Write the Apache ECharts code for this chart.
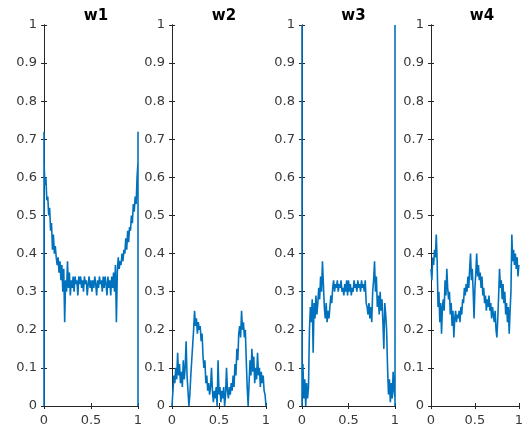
<!DOCTYPE html>
<html>
<head>
<meta charset="utf-8">
<script src="https://cdn.jsdelivr.net/npm/echarts@6/dist/echarts.min.js"></script>
<style>
html,body{margin:0;padding:0;background:#fff;}
#c{width:526px;height:432px;}
</style>
</head>
<body>
<div id="c"></div>
<script>
// Panel titles
const titles = ['w1', 'w2', 'w3', 'w4'];
// Tick labels (axis range and step)
const yTicks = [0, 0.1, 0.2, 0.3, 0.4, 0.5, 0.6, 0.7, 0.8, 0.9, 1];
const xTicks = [0, 0.5, 1];

// Samples at x = 0, 0.01, ..., 1 (101 values each)
const w1 = [0.64,0.58,0.60,0.54,0.55,0.50,0.52,0.46,0.48,0.41,0.45,0.40,0.42,0.39,0.37,0.39,0.35,0.38,0.33,0.37,
0.30,0.36,0.22,0.33,0.30,0.38,0.31,0.35,0.29,0.33,0.31,0.34,0.30,0.34,0.32,0.33,0.29,0.34,0.32,0.34,
0.31,0.33,0.30,0.34,0.32,0.33,0.29,0.32,0.34,0.31,0.33,0.30,0.33,0.31,0.34,0.32,0.29,0.33,0.31,0.34,
0.32,0.33,0.30,0.34,0.31,0.34,0.32,0.29,0.34,0.31,0.33,0.29,0.34,0.31,0.35,0.30,0.37,0.22,0.35,0.39,
0.36,0.38,0.37,0.40,0.38,0.41,0.40,0.44,0.41,0.46,0.43,0.47,0.46,0.50,0.48,0.53,0.51,0.55,0.53,0.60,0.64];
const w2 = [0.00,0.04,0.08,0.06,0.10,0.07,0.14,0.08,0.11,0.06,0.09,0.05,0.12,0.07,0.10,0.17,0.08,0.04,0.00,0.03,
0.08,0.12,0.16,0.20,0.25,0.21,0.23,0.19,0.22,0.20,0.21,0.17,0.19,0.13,0.10,0.12,0.06,0.08,0.04,0.06,
0.03,0.05,0.10,0.04,0.01,0.04,0.02,0.05,0.00,0.12,0.03,0.05,0.01,0.04,0.02,0.05,0.00,0.03,0.10,0.04,
0.02,0.05,0.03,0.06,0.04,0.08,0.05,0.11,0.08,0.15,0.12,0.19,0.21,0.18,0.25,0.20,0.22,0.18,0.20,0.12,
0.05,0.00,0.06,0.12,0.08,0.15,0.09,0.13,0.06,0.10,0.07,0.14,0.08,0.10,0.05,0.09,0.06,0.08,0.04,0.03,0.00];
const w3 = [0.05,0.11,0.02,0.07,0.00,0.06,0.02,0.05,0.20,0.26,0.22,0.28,0.14,0.27,0.23,0.29,0.24,0.27,0.31,0.28,
0.34,0.30,0.38,0.32,0.26,0.23,0.27,0.22,0.25,0.23,0.26,0.29,0.27,0.31,0.33,0.30,0.32,0.31,0.33,0.30,
0.32,0.31,0.33,0.30,0.31,0.29,0.32,0.30,0.33,0.29,0.33,0.30,0.32,0.29,0.31,0.30,0.33,0.31,0.32,0.30,
0.33,0.31,0.32,0.30,0.33,0.31,0.32,0.30,0.33,0.27,0.26,0.24,0.27,0.23,0.26,0.22,0.30,0.33,0.38,0.30,
0.34,0.26,0.29,0.24,0.30,0.25,0.28,0.22,0.15,0.27,0.24,0.20,0.10,0.03,0.07,0.01,0.06,0.02,0.09,0.04,0.02];
const w4 = [0.36,0.33,0.39,0.37,0.41,0.39,0.45,0.38,0.26,0.30,0.22,0.27,0.19,0.26,0.28,0.25,0.33,0.29,0.36,0.31,
0.28,0.30,0.24,0.27,0.21,0.25,0.18,0.23,0.25,0.22,0.24,0.23,0.25,0.22,0.26,0.24,0.28,0.27,0.31,0.29,
0.32,0.30,0.34,0.31,0.36,0.40,0.33,0.36,0.30,0.23,0.31,0.35,0.40,0.34,0.37,0.33,0.35,0.31,0.34,0.29,
0.31,0.27,0.29,0.25,0.28,0.26,0.29,0.25,0.27,0.23,0.26,0.24,0.22,0.25,0.20,0.18,0.23,0.29,0.36,0.31,
0.33,0.28,0.32,0.27,0.30,0.24,0.27,0.22,0.26,0.19,0.25,0.30,0.45,0.38,0.41,0.37,0.40,0.36,0.39,0.34,0.37];

// Vertical edge segments drawn at x=0 (before) and x=1 (after) the samples
const startEdges = [[0, 0.72], [], [0, 1], []];
const endEdges = [[0.72, 0], [], [1, 0], []];

const seriesValues = [w1, w2, w3, w4];

const gridLefts = [44, 172, 302, 431];
const gridWidths = [94, 94, 93, 92];
const gridTop = 25, gridHeight = 381;
const axisColor = '#262626';
const lineColor = '#0072BD';
const fontName = 'DejaVu Sans';

const grids = [], xAxes = [], yAxes = [], seriesList = [], titleList = [];
seriesValues.forEach((vals, k) => {
  grids.push({left: gridLefts[k], top: gridTop, width: gridWidths[k], height: gridHeight, containLabel: false});
  const n = vals.length;
  const data = [];
  startEdges[k].forEach(v => data.push([0, v]));
  vals.forEach((v, i) => data.push([i / (n - 1), v]));
  endEdges[k].forEach(v => data.push([1, v]));
  const xStep = xTicks[1] - xTicks[0];
  const yStep = yTicks[1] - yTicks[0];
  xAxes.push({
    type: 'value', gridIndex: k, min: xTicks[0], max: xTicks[xTicks.length - 1], interval: xStep,
    position: 'bottom',
    axisLine: {show: true, lineStyle: {color: axisColor, width: 1}},
    axisTick: {show: true, inside: true, length: 3, lineStyle: {color: axisColor}},
    axisLabel: {show: true, color: '#383838', fontSize: 13, fontFamily: fontName, margin: 8},
    splitLine: {show: false}
  });
  xAxes.push({
    type: 'value', gridIndex: k, min: xTicks[0], max: xTicks[xTicks.length - 1], interval: xStep,
    position: 'top',
    axisLine: {show: true, lineStyle: {color: axisColor, width: 1}},
    axisTick: {show: true, inside: true, length: 3, lineStyle: {color: axisColor}},
    axisLabel: {show: false},
    splitLine: {show: false}
  });
  yAxes.push({
    type: 'value', gridIndex: k, min: yTicks[0], max: yTicks[yTicks.length - 1], interval: yStep,
    position: 'left',
    axisLine: {show: true, lineStyle: {color: axisColor, width: 1}},
    axisTick: {show: true, inside: true, length: 3, lineStyle: {color: axisColor}},
    axisLabel: {show: true, color: '#383838', fontSize: 13, fontFamily: fontName, margin: 7},
    splitLine: {show: false}
  });
  yAxes.push({
    type: 'value', gridIndex: k, min: yTicks[0], max: yTicks[yTicks.length - 1], interval: yStep,
    position: 'right',
    axisLine: {show: true, lineStyle: {color: axisColor, width: 1}},
    axisTick: {show: true, inside: true, length: 3, lineStyle: {color: axisColor}},
    axisLabel: {show: false},
    splitLine: {show: false}
  });
  seriesList.push({
    type: 'line', xAxisIndex: 2 * k, yAxisIndex: 2 * k, data: data,
    showSymbol: false, symbol: 'none', clip: true,
    lineStyle: {color: lineColor, width: 1.6},
    z: 3
  });
  titleList.push({
    text: titles[k], left: gridLefts[k] + gridWidths[k] / 2, top: 4, textAlign: 'center',
    textStyle: {fontSize: 15, fontWeight: 'bold', color: '#000', fontFamily: fontName}
  });
});

const chart = echarts.init(document.getElementById('c'), null, {renderer: 'canvas'});
chart.setOption({
  animation: false,
  backgroundColor: '#fff',
  title: titleList,
  grid: grids,
  xAxis: xAxes,
  yAxis: yAxes,
  series: seriesList
});
</script>
</body>
</html>
